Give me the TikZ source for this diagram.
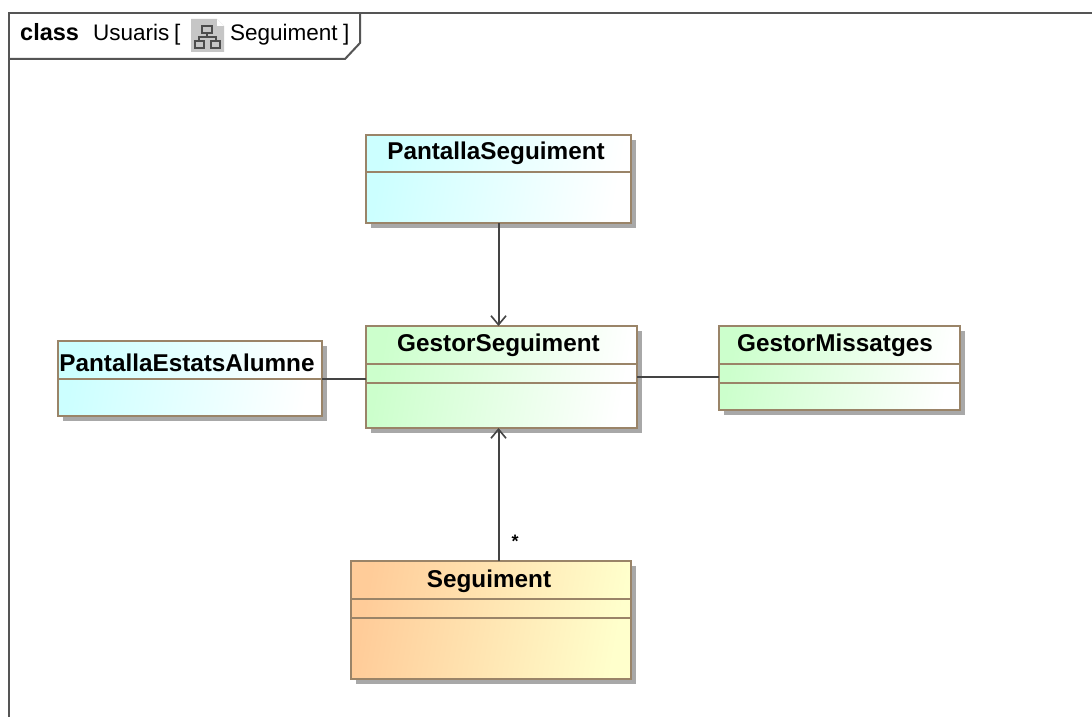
\documentclass[tikz,border=0pt]{standalone}
\usepackage{fontspec}
\setmainfont{Liberation Sans}
\usetikzlibrary{arrows.meta,shadows}
\definecolor{boxline}{HTML}{9A8468}
\definecolor{wireline}{HTML}{444444}
\definecolor{frameline}{HTML}{555555}
\definecolor{boxshadow}{HTML}{A8A8A8}
\tikzset{
    classbox/.style={draw=boxline, line width=2pt, inner sep=0pt, outer sep=0pt,
        drop shadow={shadow xshift=5pt, shadow yshift=-5pt, fill=boxshadow, opacity=1}},
    pantallabox/.style={classbox, left color=cyan!20, right color=white, shading angle=80},
    gestorbox/.style={classbox, left color=green!20, right color=white, shading angle=80},
    dadesbox/.style={classbox, left color=orange!40, right color=yellow!20, shading angle=80},
    classtitle/.style={font=\bfseries\fontsize{24.3}{26}\selectfont, inner sep=0pt},
    frametext/.style={font=\fontsize{22.5}{24}\selectfont, inner sep=0pt, anchor=base west},
    compartment/.style={draw=boxline, line width=1.8pt},
    wire/.style={draw=wireline, line width=2pt},
    navwire/.style={wire, -{Straight Barb[length=9pt,width=15pt,line width=1.6pt]}}
}
\begin{document}
\begin{tikzpicture}[x=1pt,y=-1pt]
    \useasboundingbox (0,0) rectangle (1092,717);
    \fill[white] (0,0) rectangle (1092,717);

    % Draw frame
    \coordinate (frameleft) at (9,717);
    \coordinate (frametop) at (9,13);
    \coordinate (frameright) at (1092,13);
    \coordinate (tabcorner) at (360,13);
    \coordinate (tabside) at (360,43);
    \coordinate (tabcut) at (345,59);
    \coordinate (tabend) at (9,59);
    \draw[frameline, line width=2pt] (frameleft) -- (frametop) -- (frameright);
    \draw[frameline, line width=2pt] (tabcorner) -- (tabside) -- (tabcut) -- (tabend);

    % Draw frame title
    \node[frametext, font=\bfseries\fontsize{23.5}{25}\selectfont] (kind) at (20,41) {class};
    \node[frametext] (package) at (93,41) {Usuaris};
    \node[frametext] (open) at (174,41) {[};
    \node[frametext] (diagram) at (230,41) {Seguiment};
    \node[frametext] (close) at (343,41) {]};

    % Draw diagram icon
    \fill[gray!45] (191,19) -- (217,19) -- (224,26) -- (224,52) -- (191,52) -- cycle;
    \fill[white] (217,19) -- (224,26) -- (217,26) -- cycle;
    \draw[black!70, line width=1.4pt] (202,26) rectangle (212,33);
    \draw[black!70, line width=1.4pt] (195,41) rectangle (204,48);
    \draw[black!70, line width=1.4pt] (211,41) rectangle (220,48);
    \draw[black!70, line width=1.4pt] (207,33) -- (207,37) (199,41) -- (199,37) -- (216,37) -- (216,41);

    % Draw classes
    \node[pantallabox, minimum width=265pt, minimum height=88pt] (pantallaseguiment) at (498.5,179) {};
    \node[gestorbox, minimum width=271pt, minimum height=102pt] (gestorseguiment) at (501.5,377) {};
    \node[pantallabox, minimum width=264pt, minimum height=75pt] (pantallaestats) at (190,378.5) {};
    \node[gestorbox, minimum width=241pt, minimum height=84pt] (gestormissatges) at (839.5,368) {};
    \node[dadesbox, minimum width=280pt, minimum height=118pt] (seguiment) at (491,620) {};

    % Draw class names
    \node[classtitle] (pantallaseguimentname) at (496,153) {PantallaSeguiment};
    \node[classtitle] (gestorseguimentname) at (498.5,345) {GestorSeguiment};
    \node[classtitle] (pantallaestatsname) at (187,363) {PantallaEstatsAlumne};
    \node[classtitle] (gestormissatgesname) at (835,345) {GestorMissatges};
    \node[classtitle] (seguimentname) at (489,581) {Seguiment};

    % Draw compartments
    \draw[compartment] ([yshift=-37pt]pantallaseguiment.north west) -- ([yshift=-37pt]pantallaseguiment.north east);
    \draw[compartment] ([yshift=-38pt]gestorseguiment.north west) -- ([yshift=-38pt]gestorseguiment.north east);
    \draw[compartment] ([yshift=-57pt]gestorseguiment.north west) -- ([yshift=-57pt]gestorseguiment.north east);
    \draw[compartment] ([yshift=-38pt]pantallaestats.north west) -- ([yshift=-38pt]pantallaestats.north east);
    \draw[compartment] ([yshift=-38pt]gestormissatges.north west) -- ([yshift=-38pt]gestormissatges.north east);
    \draw[compartment] ([yshift=-57pt]gestormissatges.north west) -- ([yshift=-57pt]gestormissatges.north east);
    \draw[compartment] ([yshift=-38pt]seguiment.north west) -- ([yshift=-38pt]seguiment.north east);
    \draw[compartment] ([yshift=-57pt]seguiment.north west) -- ([yshift=-57pt]seguiment.north east);

    % Draw edges
    \draw[navwire] (pantallaseguiment.south) -- (pantallaseguiment.south |- gestorseguiment.north);
    \draw[navwire] (pantallaseguiment.south |- seguiment.north) -- (pantallaseguiment.south |- gestorseguiment.south);
    \draw[wire] (pantallaestats.east) -- (pantallaestats.east -| gestorseguiment.west);
    \draw[wire] (gestorseguiment.east) -- (gestorseguiment.east -| gestormissatges.west);
    \node[font=\bfseries\fontsize{18}{20}\selectfont, inner sep=0pt] (multiplicity) at (515,541) {*};
\end{tikzpicture}
\end{document}
